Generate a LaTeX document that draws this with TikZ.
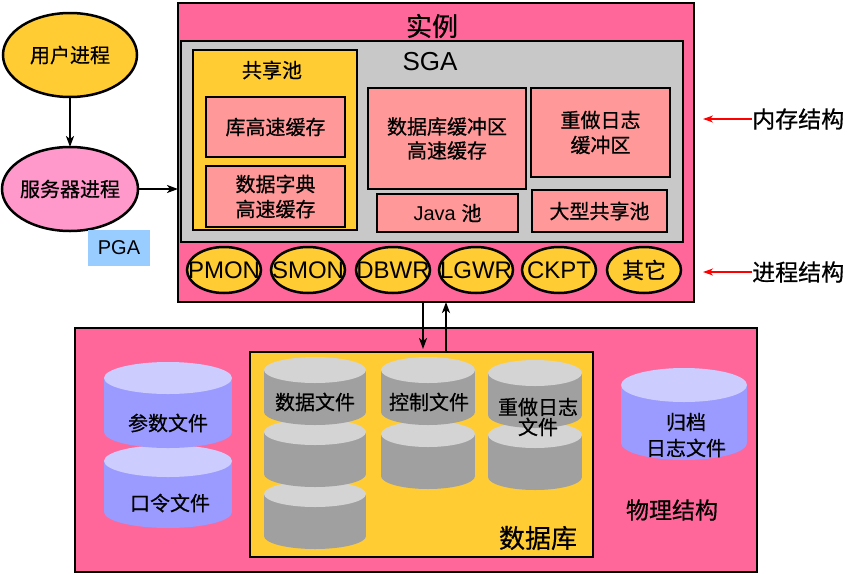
\documentclass[tikz,border=0pt]{standalone}
\usepackage{fontspec}
\setmainfont{Liberation Sans}
\newfontfamily\cjk[FakeBold=0.6]{Noto Sans CJK SC}
\usetikzlibrary{shapes.geometric,arrows.meta}
\definecolor{pinkbg}{HTML}{FF6699}
\definecolor{gold}{HTML}{FFCC33}
\definecolor{salmon}{HTML}{FF9999}
\definecolor{sgagrey}{HTML}{C8C8C8}
\definecolor{srvpink}{HTML}{FF99CC}
\definecolor{pgablue}{HTML}{99CCFF}
\definecolor{cylblue}{HTML}{9A9AFF}
\definecolor{capblue}{HTML}{CCCCFF}
\definecolor{cylgrey}{HTML}{A0A0A0}
\definecolor{capgrey}{HTML}{D4D4D4}
\newcommand\drawcyl[7]{%
  \fill[#6] (#1-#4,#2) rectangle (#1+#4,#3);
  \fill[#6] (#1,#3) ellipse[x radius=#4pt, y radius=#5pt];
  \fill[#7] (#1,#2) ellipse[x radius=#4pt, y radius=#5pt];}
\begin{document}
\begin{tikzpicture}[x=1pt,y=-1pt,
  box/.style={draw=black, line width=2.5pt, rectangle, inner sep=0pt, outer sep=0pt},
  oval/.style={draw=black, line width=2.5pt, ellipse, inner sep=0pt, outer sep=0pt},
  proc/.style={oval, fill=gold, minimum width=74pt, minimum height=46pt},
  tcn/.style={font=\cjk\fontsize{#1}{#1}\selectfont, inner sep=0pt, align=center},
  tla/.style={font=\fontsize{#1}{#1}\selectfont, inner sep=0pt, align=center},
  arr/.style={draw=black, line width=2.2pt, -{Stealth[length=11pt,width=8pt,inset=3pt]}},
  redarr/.style={draw=red, line width=1.6pt, -{Stealth[length=10pt,width=7pt,inset=3pt]}}
]
\useasboundingbox[fill=white] (0,0) rectangle (848,584);

% left processes
\node[oval, fill=gold, minimum width=134pt, minimum height=84pt] (user) at (70,55) {};
\node[tcn=20] at (user) {用户进程};
\node[oval, fill=srvpink, minimum width=136pt, minimum height=84pt] (server) at (70,189) {};
\node[tcn=20] at (server) {服务器进程};
\node[fill=pgablue, minimum width=62pt, minimum height=36pt, inner sep=0pt] (pga) at (119,248) {};
\node[tla=20] at (pga) {PGA};

% instance
\node[box, fill=pinkbg, minimum width=516pt, minimum height=299pt] (inst) at (436,152.5) {};
\node[tcn=26] (instlbl) at (432,26) {实例};
\node[box, fill=sgagrey, minimum width=502pt, minimum height=201pt] (sga) at (432,141.5) {};
\node[tla=26] (sgalbl) at (430,62) {SGA};
\node[box, fill=gold, minimum width=164pt, minimum height=180pt] (pool) at (275,140) {};
\node[tcn=20] (poollbl) at (272,70) {共享池};
\node[box, fill=salmon, minimum width=139pt, minimum height=60pt] (libc) at (275.5,127) {};
\node[tcn=20] at (libc) {库高速缓存};
\node[box, fill=salmon, minimum width=139pt, minimum height=61pt] (dictc) at (275.5,196.5) {};
\node[tcn=20, font=\cjk\fontsize{20}{25}\selectfont] at (dictc) {数据字典\\高速缓存};
\node[box, fill=salmon, minimum width=158pt, minimum height=101pt] (dbbuf) at (447,138.5) {};
\node[tcn=20, font=\cjk\fontsize{20}{24}\selectfont] at (dbbuf) {数据库缓冲区\\高速缓存};
\node[box, fill=salmon, minimum width=139pt, minimum height=89pt] (redobuf) at (600.5,132.5) {};
\node[tcn=20, font=\cjk\fontsize{20}{25}\selectfont] at (redobuf) {重做日志\\缓冲区};
\node[box, fill=salmon, minimum width=141pt, minimum height=38pt] (java) at (447.5,213) {};
\node[tla=20] at (java) {Java {\cjk 池}};
\node[box, fill=salmon, minimum width=135pt, minimum height=42pt] (large) at (599.5,211) {};
\node[tcn=20] at (large) {大型共享池};

% background processes
\node[proc] (pmon) at (224,270) {};
\node[tla=24] at (pmon) {PMON};
\node[proc] (smon) at (308,270) {};
\node[tla=24] at (smon) {SMON};
\node[proc] (dbwr) at (393,270) {};
\node[tla=24] at (dbwr) {DBWR};
\node[proc] (lgwr) at (476,270) {};
\node[tla=24] at (lgwr) {LGWR};
\node[proc] (ckpt) at (559,270) {};
\node[tla=24] at (ckpt) {CKPT};
\node[proc] (other) at (644,270) {};
\node[tcn=22] at (other) {其它};

% right labels
\node[tcn=23, anchor=west] (mem) at (752,119) {内存结构};
\node[tcn=23, anchor=west] (prc) at (752,272) {进程结构};
\coordinate (memtip) at (703,119);
\coordinate (prctip) at (703,272);
\draw[redarr] (mem.west) -- (memtip);
\draw[redarr] (prc.west) -- (prctip);

% physical structure
\node[box, fill=pinkbg, minimum width=682pt, minimum height=244pt] (phys) at (416,450) {};
\node[box, fill=gold, minimum width=343pt, minimum height=205pt] (db) at (421.5,454.5) {};
\node[tcn=26] (dblbl) at (538,538) {数据库};
\node[tcn=23] (physlbl) at (672,510) {物理结构};

% blue cylinders
\drawcyl{168}{461}{512}{64}{16}{cylblue}{capblue}
\drawcyl{168}{378}{432}{64}{16}{cylblue}{capblue}
\node[tcn=20] (parf) at (168,423) {参数文件};
\node[tcn=20] (pwdf) at (170,503) {口令文件};
\drawcyl{684}{385}{443}{63}{17}{cylblue}{capblue}
\node[tcn=20, font=\cjk\fontsize{20}{26}\selectfont] (arch) at (686,435) {归档\\日志文件};

% grey cylinders
\drawcyl{315}{494}{536}{51}{13}{cylgrey}{capgrey}
\drawcyl{315}{432}{474}{51}{13}{cylgrey}{capgrey}
\drawcyl{315}{370}{412}{51}{13}{cylgrey}{capgrey}
\node[tcn=20] (dataf) at (315,402) {数据文件};
\drawcyl{428}{434}{476}{47}{13}{cylgrey}{capgrey}
\drawcyl{428}{370}{412}{47}{13}{cylgrey}{capgrey}
\node[tcn=20] (ctlf) at (429,402) {控制文件};
\drawcyl{535}{435}{477}{47}{13}{cylgrey}{capgrey}
\drawcyl{535}{373}{415}{47}{13}{cylgrey}{capgrey}
\node[tcn=20, font=\cjk\fontsize{20}{20}\selectfont] (redof) at (538,417) {重做日志\\文件};

% connectors
\draw[arr] (user) -- (server);
\draw[arr] (server) -- (server -| inst.west);
\coordinate (dnx) at (423,0);
\coordinate (upx) at (446,0);
\draw[arr, shorten >=3pt] (inst.south -| dnx) -- (db.north -| dnx);
\draw[arr] (db.north -| upx) -- (inst.south -| upx);
\end{tikzpicture}
\end{document}
